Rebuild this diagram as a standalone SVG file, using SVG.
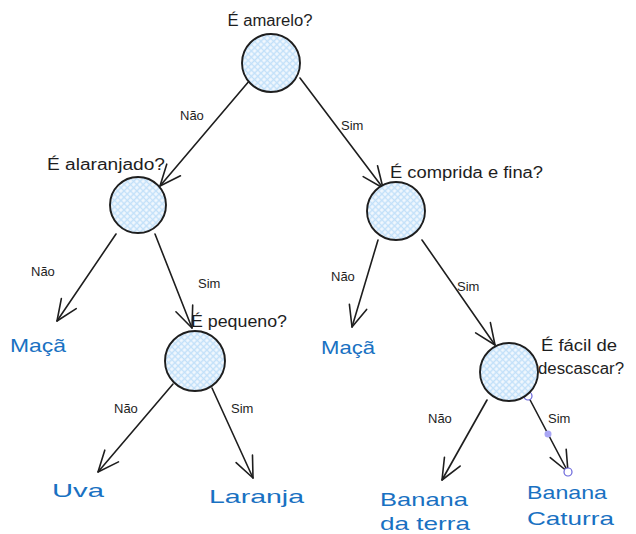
<svg xmlns="http://www.w3.org/2000/svg" width="636" height="534" viewBox="0 0 636 534">
  <style>
    .node circle { fill: url(#hatch); stroke: #1e1e1e; stroke-width: 1.9; }
    .q { font-family: "Liberation Sans", "DejaVu Sans", sans-serif; font-size: 16px; fill: #1e1e1e; }
    .leaf { font-family: "Liberation Sans", "DejaVu Sans", sans-serif; font-size: 19px; fill: #1971c2; }
    .lbl { font-family: "Liberation Sans", "DejaVu Sans", sans-serif; font-size: 13px; fill: #1e1e1e; }
    .edge { stroke: #1e1e1e; stroke-width: 1.6; fill: none; stroke-linecap: round; marker-end: url(#head); }
    .handle { fill: #ffffff; stroke: #6965db; stroke-width: 1.2; }
  </style>
  <defs>
    <!-- light cross-hatch fill for the question nodes -->
    <pattern id="hatch" patternUnits="userSpaceOnUse" width="4.5" height="4.5" patternTransform="rotate(45)">
      <rect width="4.5" height="4.5" fill="#f2f8fe"/>
      <path d="M0 2.25 H4.5 M2.25 0 V4.5" stroke="#c2e0f9" stroke-width="1.5"/>
    </pattern>
    <marker id="head" markerUnits="userSpaceOnUse" orient="auto" refX="0" refY="0" markerWidth="30" markerHeight="30" viewBox="-25 -15 30 30" overflow="visible">
      <path d="M-21 -9 L0 0 L-21 9" fill="none" stroke="#1e1e1e" stroke-width="1.6" stroke-linecap="round" stroke-linejoin="round"/>
    </marker>
  </defs>
  <rect width="636" height="534" fill="#ffffff"/>

  <g id="connectors">
    <line class="edge" x1="250" y1="80" x2="160" y2="186"/>
    <line class="edge" x1="300" y1="78" x2="383" y2="188"/>
    <line class="edge" x1="116" y1="234" x2="57" y2="321"/>
    <line class="edge" x1="155" y1="234" x2="192" y2="328"/>
    <line class="edge" x1="378" y1="240" x2="352" y2="327"/>
    <line class="edge" x1="422" y1="240" x2="495" y2="345"/>
    <line class="edge" x1="173" y1="384" x2="98" y2="472"/>
    <line class="edge" x1="212" y1="388" x2="253" y2="478"/>
    <line class="edge" x1="487" y1="400" x2="442" y2="480"/>
    <line class="edge" x1="528" y1="396" x2="568" y2="472"/>
    <text class="lbl" x="180" y="120">Não</text>
    <text class="lbl" x="341" y="130">Sim</text>
    <text class="lbl" x="31" y="276">Não</text>
    <text class="lbl" x="198" y="288">Sim</text>
    <text class="lbl" x="331" y="281">Não</text>
    <text class="lbl" x="457" y="291">Sim</text>
    <text class="lbl" x="114" y="413">Não</text>
    <text class="lbl" x="231" y="413">Sim</text>
    <text class="lbl" x="428" y="423">Não</text>
    <text class="lbl" x="548" y="423">Sim</text>
    <!-- selection handles on the last connector -->
    <circle class="handle" cx="528" cy="396" r="4"/>
    <circle cx="548" cy="434" r="3.5" fill="#a9a6f5"/>
    <circle class="handle" cx="568" cy="472" r="4"/>
  </g>

  <g id="node-amarelo" class="node">
    <circle cx="271" cy="63" r="29"/>
    <text class="q" x="270" y="26" text-anchor="middle" textLength="85" lengthAdjust="spacingAndGlyphs">É amarelo?</text>
  </g>
  <g id="node-alaranjado" class="node">
    <circle cx="138" cy="205" r="28"/>
    <text class="q" x="47" y="170" textLength="118" lengthAdjust="spacingAndGlyphs">É alaranjado?</text>
  </g>
  <g id="node-comprida" class="node">
    <circle cx="396" cy="211" r="29"/>
    <text class="q" x="390" y="178" textLength="153" lengthAdjust="spacingAndGlyphs">É comprida e fina?</text>
  </g>
  <g id="node-pequeno" class="node">
    <circle cx="195" cy="361" r="30"/>
    <text class="q" x="191" y="327" textLength="96" lengthAdjust="spacingAndGlyphs">É pequeno?</text>
  </g>
  <g id="node-facil" class="node">
    <circle cx="509" cy="372" r="29"/>
    <text class="q" x="541" y="351" textLength="76" lengthAdjust="spacingAndGlyphs">É fácil de</text>
    <text class="q" x="538" y="374" textLength="86" lengthAdjust="spacingAndGlyphs">descascar?</text>
  </g>

  <g id="leaf-maca-1"><text class="leaf" x="10" y="352" textLength="56" lengthAdjust="spacingAndGlyphs">Maçã</text></g>
  <g id="leaf-maca-2"><text class="leaf" x="321" y="354" textLength="54" lengthAdjust="spacingAndGlyphs">Maçã</text></g>
  <g id="leaf-uva"><text class="leaf" x="52" y="497" textLength="52" lengthAdjust="spacingAndGlyphs">Uva</text></g>
  <g id="leaf-laranja"><text class="leaf" x="209" y="503" textLength="95" lengthAdjust="spacingAndGlyphs">Laranja</text></g>
  <g id="leaf-banana-terra">
    <text class="leaf" x="380" y="506" textLength="88" lengthAdjust="spacingAndGlyphs">Banana</text>
    <text class="leaf" x="380" y="530" textLength="90" lengthAdjust="spacingAndGlyphs">da terra</text>
  </g>
  <g id="leaf-banana-caturra">
    <text class="leaf" x="527" y="499" textLength="80" lengthAdjust="spacingAndGlyphs">Banana</text>
    <text class="leaf" x="527" y="525" textLength="87" lengthAdjust="spacingAndGlyphs">Caturra</text>
  </g>
</svg>
